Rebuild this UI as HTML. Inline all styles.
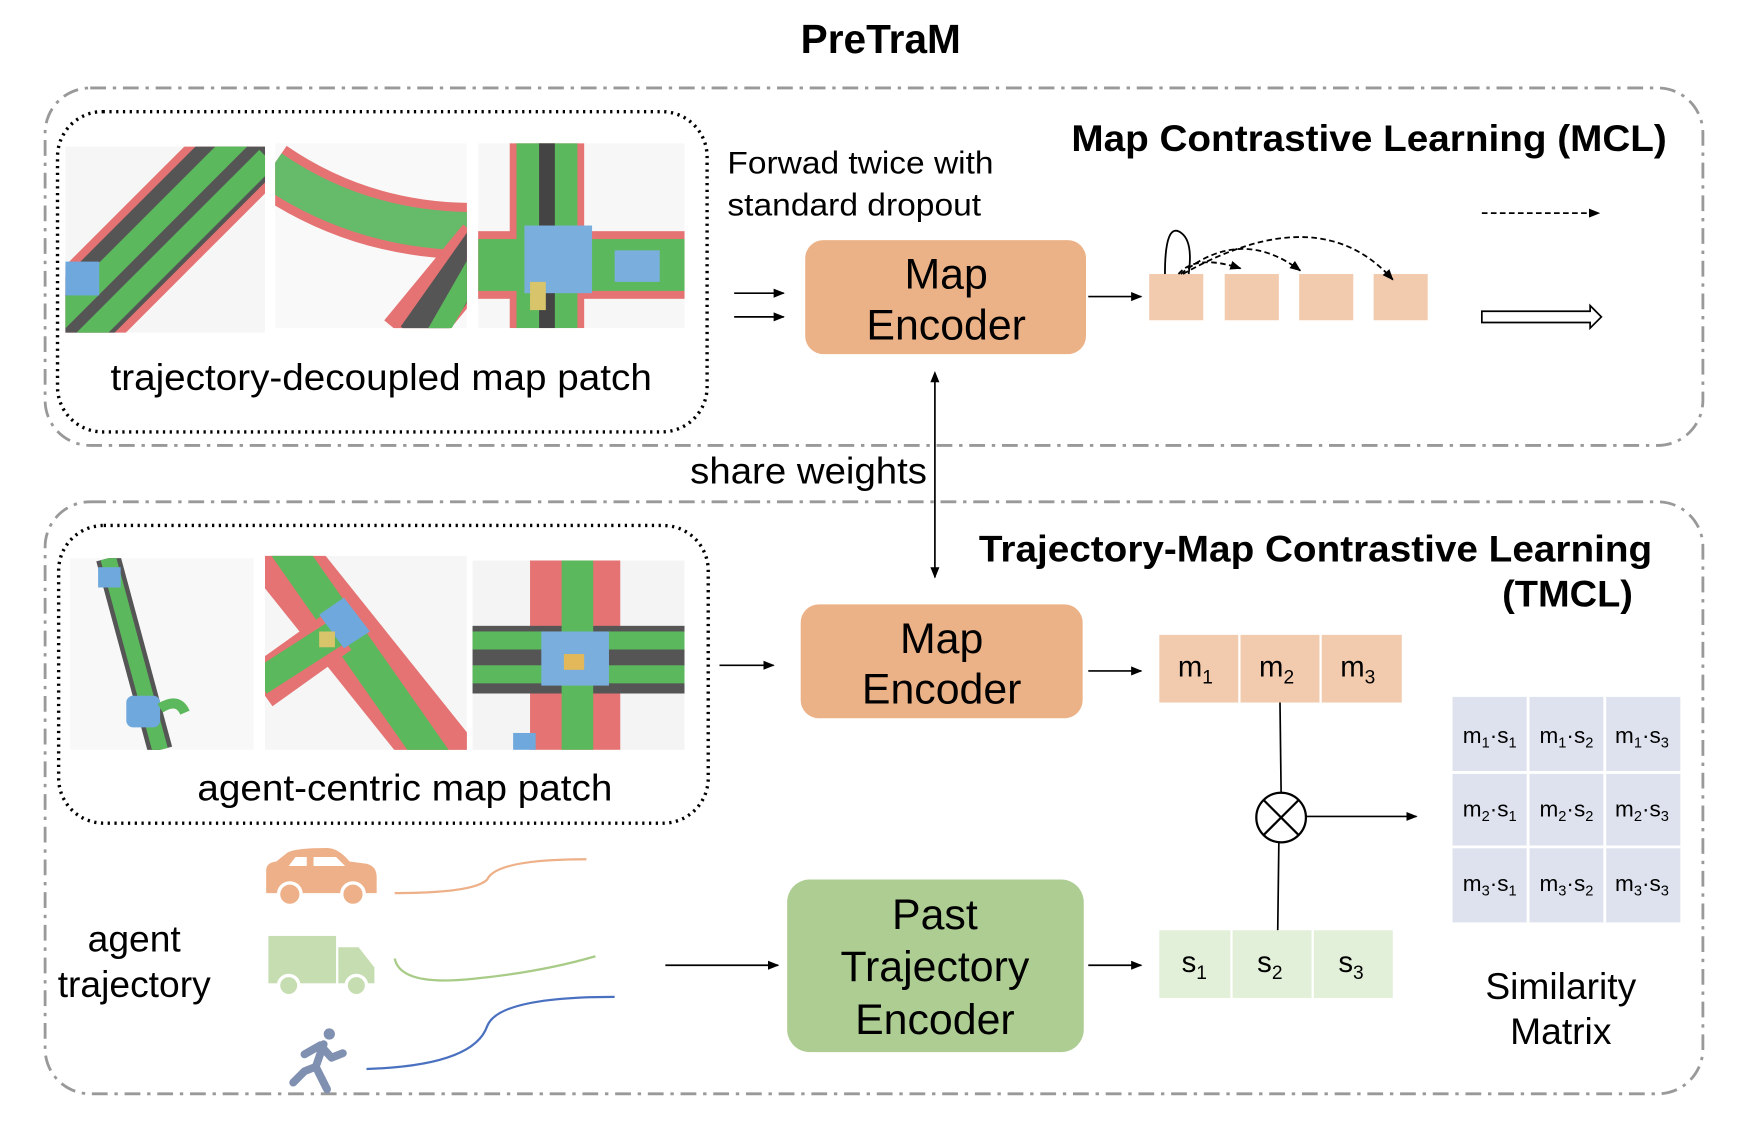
<!DOCTYPE html>
<html><head><meta charset="utf-8"><style>
html,body{margin:0;padding:0;background:#fff;}
svg{display:block;}
text{font-family:"Liberation Sans",sans-serif;}
</style></head><body>
<svg width="1748" height="1122" viewBox="0 0 1550 995" preserveAspectRatio="none" xmlns="http://www.w3.org/2000/svg">
<defs>
<marker id="ah" markerWidth="10" markerHeight="10" refX="9" refY="5" orient="auto" markerUnits="userSpaceOnUse"><path d="M0,1 L10,5 L0,9 Z" fill="#000"/></marker>
<marker id="ah2" markerWidth="10" markerHeight="10" refX="1" refY="5" orient="auto-start-reverse" markerUnits="userSpaceOnUse"><path d="M0,1 L10,5 L0,9 Z" fill="#000"/></marker>
<clipPath id="c1"><rect x="58" y="130" width="177" height="165"/></clipPath>
<clipPath id="c2"><rect x="244" y="127" width="170" height="164"/></clipPath>
<clipPath id="c3"><rect x="424" y="127" width="183" height="164"/></clipPath>
<clipPath id="c4"><rect x="62" y="495" width="163" height="170"/></clipPath>
<clipPath id="c5"><rect x="235" y="493" width="179" height="172"/></clipPath>
<clipPath id="c6"><rect x="419" y="497" width="188" height="168"/></clipPath>
</defs>
<rect width="1550" height="995" fill="#fff"/>
<text x="781" y="47" font-size="36" font-weight="bold" text-anchor="middle">PreTraM</text>

<rect x="40" y="78" width="1470" height="317" rx="40" fill="none" stroke="#999" stroke-width="2.5" stroke-dasharray="14,6,3,6"/>
<rect x="40" y="445" width="1470" height="525" rx="40" fill="none" stroke="#999" stroke-width="2.5" stroke-dasharray="14,6,3,6"/>
<rect x="51" y="99" width="576" height="284" rx="40" fill="none" stroke="#000" stroke-width="3" stroke-dasharray="2,4"/>
<rect x="52" y="466" width="576" height="264" rx="40" fill="none" stroke="#000" stroke-width="3" stroke-dasharray="2,4"/>

<g clip-path="url(#c1)">
<rect x="58" y="130" width="177" height="165" fill="#f6f6f6"/>
<line x1="30" y1="320" x2="230" y2="120" stroke="#e57373" stroke-width="80"/>
<line x1="30" y1="320" x2="230" y2="120" stroke="#555" stroke-width="66"/>
<line x1="40" y1="295" x2="215" y2="120" stroke="#5cb85c" stroke-width="20"/>
<line x1="62" y1="315" x2="237" y2="140" stroke="#5cb85c" stroke-width="20"/>
<rect x="58" y="232" width="30" height="30" fill="#6fa8dc"/>
</g>
<g clip-path="url(#c2)">
<rect x="244" y="127" width="170" height="164" fill="#f9f9f9"/>
<path d="M240,150 Q320,205 420,205" fill="none" stroke="#e57373" stroke-width="50"/>
<path d="M240,150 Q320,205 420,205" fill="none" stroke="#66bb6a" stroke-width="34"/>
<path d="M430,215 L360,300" fill="none" stroke="#e57373" stroke-width="50"/>
<path d="M430,215 L370,300" fill="none" stroke="#555" stroke-width="36"/>
<path d="M428,225 L385,300" fill="none" stroke="#5cb85c" stroke-width="18"/>
</g>
<g clip-path="url(#c3)">
<rect x="424" y="127" width="183" height="164" fill="#f7f7f7"/>
<rect x="452" y="127" width="66" height="164" fill="#e57373"/>
<rect x="420" y="205" width="190" height="60" fill="#e57373"/>
<rect x="458" y="127" width="54" height="164" fill="#5cb85c"/>
<rect x="478" y="127" width="14" height="164" fill="#444"/>
<rect x="424" y="212" width="183" height="46" fill="#5cb85c"/>
<rect x="465" y="200" width="60" height="60" fill="#7aaedc"/>
<rect x="545" y="222" width="40" height="28" fill="#7aaedc"/>
<rect x="470" y="250" width="14" height="25" fill="#d8c46a"/>
</g>
<g clip-path="url(#c4)">
<rect x="62" y="495" width="163" height="170" fill="#f8f8f8"/>
<line x1="96" y1="495" x2="142" y2="665" stroke="#555" stroke-width="22"/>
<line x1="96" y1="495" x2="142" y2="665" stroke="#5cb85c" stroke-width="14"/>
<rect x="87" y="503" width="20" height="18" fill="#6fa8dc"/>
<rect x="112" y="617" width="30" height="28" rx="6" fill="#6fa8dc"/>
<path d="M142,628 Q158,618 164,632" fill="none" stroke="#5cb85c" stroke-width="9"/>
</g>
<g clip-path="url(#c5)">
<rect x="235" y="493" width="179" height="172" fill="#f6f6f6"/>
<line x1="240" y1="480" x2="400" y2="680" stroke="#e57373" stroke-width="60"/>
<line x1="250" y1="480" x2="390" y2="680" stroke="#5cb85c" stroke-width="30"/>
<line x1="230" y1="610" x2="300" y2="560" stroke="#e57373" stroke-width="40"/>
<line x1="230" y1="605" x2="300" y2="560" stroke="#5cb85c" stroke-width="24"/>
<polygon points="283,545 305,530 328,560 305,575" fill="#6fa8dc"/>
<rect x="283" y="560" width="14" height="14" fill="#d8c46a"/>
</g>
<g clip-path="url(#c6)">
<rect x="419" y="497" width="188" height="168" fill="#f4f4f4"/>
<rect x="470" y="497" width="80" height="168" fill="#e57373"/>
<rect x="419" y="555" width="188" height="60" fill="#555"/>
<rect x="498" y="497" width="28" height="168" fill="#5cb85c"/>
<rect x="419" y="560" width="188" height="16" fill="#5cb85c"/>
<rect x="419" y="590" width="188" height="16" fill="#5cb85c"/>
<rect x="480" y="560" width="60" height="48" fill="#7aaedc"/>
<rect x="500" y="580" width="18" height="14" fill="#e2b85a"/>
<rect x="455" y="650" width="20" height="15" fill="#6fa8dc"/>
</g>

<text x="98" y="346" font-size="33" textLength="480" lengthAdjust="spacingAndGlyphs">trajectory-decoupled map patch</text>
<text x="175" y="710" font-size="33" textLength="368" lengthAdjust="spacingAndGlyphs">agent-centric map patch</text>
<text x="645" y="154" font-size="28" textLength="236" lengthAdjust="spacingAndGlyphs">Forwad twice with</text>
<text x="645" y="191" font-size="28" textLength="225" lengthAdjust="spacingAndGlyphs">standard dropout</text>
<text x="950" y="134" font-size="33" font-weight="bold" textLength="528" lengthAdjust="spacingAndGlyphs">Map Contrastive Learning (MCL)</text>
<text x="868" y="498" font-size="33" font-weight="bold" textLength="597" lengthAdjust="spacingAndGlyphs">Trajectory-Map Contrastive Learning</text>
<text x="1332" y="538" font-size="33" font-weight="bold" textLength="116" lengthAdjust="spacingAndGlyphs">(TMCL)</text>
<text x="612" y="429" font-size="33" textLength="210" lengthAdjust="spacingAndGlyphs">share weights</text>

<g stroke="#000" stroke-width="1.5" fill="none">
<line x1="651" y1="260" x2="695" y2="260" marker-end="url(#ah)"/>
<line x1="651" y1="281" x2="695" y2="281" marker-end="url(#ah)"/>
<line x1="965" y1="263" x2="1012" y2="263" marker-end="url(#ah)"/>
<line x1="829" y1="338" x2="829" y2="512" marker-start="url(#ah2)" marker-end="url(#ah)"/>
<line x1="638" y1="590" x2="686" y2="590" marker-end="url(#ah)"/>
<line x1="965" y1="595" x2="1012" y2="595" marker-end="url(#ah)"/>
<line x1="965" y1="856" x2="1012" y2="856" marker-end="url(#ah)"/>
<line x1="590" y1="856" x2="690" y2="856" marker-end="url(#ah)"/>
<line x1="1158" y1="724" x2="1256" y2="724" marker-end="url(#ah)"/>
<line x1="1135" y1="623" x2="1136" y2="703"/>
<line x1="1134" y1="747" x2="1133" y2="825"/>
<line x1="1314" y1="189" x2="1418" y2="189" stroke-dasharray="5,3" marker-end="url(#ah)"/>
</g>
<circle cx="1136" cy="725" r="22" fill="#fff" stroke="#000" stroke-width="2"/>
<line x1="1120" y1="709" x2="1152" y2="741" stroke="#000" stroke-width="2"/>
<line x1="1152" y1="709" x2="1120" y2="741" stroke="#000" stroke-width="2"/>
<path d="M1314,276 L1410,276 L1410,271 L1420,281 L1410,291 L1410,286 L1314,286 Z" fill="#fff" stroke="#000" stroke-width="1.5"/>

<rect x="714" y="213" width="249" height="101" rx="16" fill="#ECB287"/>
<text x="839" y="256" font-size="38" text-anchor="middle">Map</text>
<text x="839" y="301" font-size="38" text-anchor="middle">Encoder</text>
<rect x="710" y="536" width="250" height="101" rx="16" fill="#ECB287"/>
<text x="835" y="579" font-size="38" text-anchor="middle">Map</text>
<text x="835" y="624" font-size="38" text-anchor="middle">Encoder</text>
<rect x="698" y="780" width="263" height="153" rx="20" fill="#AECD93"/>
<text x="829" y="824" font-size="38" text-anchor="middle">Past</text>
<text x="829" y="870" font-size="38" text-anchor="middle">Trajectory</text>
<text x="829" y="917" font-size="38" text-anchor="middle">Encoder</text>

<g fill="#F2CBAE">
<rect x="1019" y="243" width="48" height="41"/><rect x="1086" y="243" width="48" height="41"/>
<rect x="1152" y="243" width="48" height="41"/><rect x="1218" y="243" width="48" height="41"/>
</g>
<g fill="none" stroke="#000" stroke-width="1.6">
<path d="M1033,243 Q1033,195 1048,207 Q1058,215 1054,243"/>
<path d="M1045,243 Q1060,225 1100,238" stroke-dasharray="5,3" marker-end="url(#ah)"/>
<path d="M1047,243 Q1100,200 1153,240" stroke-dasharray="5,3" marker-end="url(#ah)"/>
<path d="M1049,243 Q1170,175 1235,248" stroke-dasharray="5,3" marker-end="url(#ah)"/>
</g>

<g fill="#F2CBAE"><rect x="1028" y="563" width="70" height="60"/><rect x="1100" y="563" width="70" height="60"/><rect x="1172" y="563" width="71" height="60"/></g>
<g font-size="26" text-anchor="middle">
<text x="1060" y="600">m<tspan font-size="17" dy="6">1</tspan></text>
<text x="1132" y="600">m<tspan font-size="17" dy="6">2</tspan></text>
<text x="1204" y="600">m<tspan font-size="17" dy="6">3</tspan></text>
</g>
<g fill="#E2EFD9"><rect x="1028" y="825" width="63" height="60"/><rect x="1093" y="825" width="70" height="60"/><rect x="1165" y="825" width="70" height="60"/></g>
<g font-size="26" text-anchor="middle">
<text x="1059" y="862">s<tspan font-size="17" dy="6">1</tspan></text>
<text x="1126" y="862">s<tspan font-size="17" dy="6">2</tspan></text>
<text x="1198" y="862">s<tspan font-size="17" dy="6">3</tspan></text>
</g>

<rect x="1288" y="618" width="202" height="200" fill="#DEE2EE"/>
<g stroke="#fff" stroke-width="2.5"><line x1="1355" y1="618" x2="1355" y2="818"/><line x1="1423" y1="618" x2="1423" y2="818"/><line x1="1288" y1="685" x2="1490" y2="685"/><line x1="1288" y1="751" x2="1490" y2="751"/></g>
<g font-size="20" text-anchor="middle">
<text x="1321" y="659">m<tspan font-size="13" dy="4">1</tspan><tspan dy="-4">·s</tspan><tspan font-size="13" dy="4">1</tspan></text>
<text x="1389" y="659">m<tspan font-size="13" dy="4">1</tspan><tspan dy="-4">·s</tspan><tspan font-size="13" dy="4">2</tspan></text>
<text x="1456" y="659">m<tspan font-size="13" dy="4">1</tspan><tspan dy="-4">·s</tspan><tspan font-size="13" dy="4">3</tspan></text>
<text x="1321" y="724">m<tspan font-size="13" dy="4">2</tspan><tspan dy="-4">·s</tspan><tspan font-size="13" dy="4">1</tspan></text>
<text x="1389" y="724">m<tspan font-size="13" dy="4">2</tspan><tspan dy="-4">·s</tspan><tspan font-size="13" dy="4">2</tspan></text>
<text x="1456" y="724">m<tspan font-size="13" dy="4">2</tspan><tspan dy="-4">·s</tspan><tspan font-size="13" dy="4">3</tspan></text>
<text x="1321" y="790">m<tspan font-size="13" dy="4">3</tspan><tspan dy="-4">·s</tspan><tspan font-size="13" dy="4">1</tspan></text>
<text x="1389" y="790">m<tspan font-size="13" dy="4">3</tspan><tspan dy="-4">·s</tspan><tspan font-size="13" dy="4">2</tspan></text>
<text x="1456" y="790">m<tspan font-size="13" dy="4">3</tspan><tspan dy="-4">·s</tspan><tspan font-size="13" dy="4">3</tspan></text>
</g>
<text x="1384" y="886" font-size="33" text-anchor="middle">Similarity</text>
<text x="1384" y="926" font-size="33" text-anchor="middle">Matrix</text>

<text x="119" y="844" font-size="33" text-anchor="middle">agent</text>
<text x="119" y="884" font-size="33" text-anchor="middle">trajectory</text>

<g fill="#EDB088">
<path d="M236,772 Q236,765 245,764 L255,756 Q262,752 290,752 Q300,752 310,764 L325,766 Q334,768 334,778 L334,792 L236,792 Z"/>
<circle cx="257" cy="793" r="10" stroke="#fff" stroke-width="3"/><circle cx="313" cy="793" r="10" stroke="#fff" stroke-width="3"/>
</g>
<path d="M262,760 L272,760 L272,768 L256,768 Z M278,760 L298,760 L306,768 L278,768 Z" fill="#fff"/>
<g fill="#C5DDB0">
<rect x="238" y="830" width="60" height="42"/>
<path d="M300,840 L318,840 L332,858 L332,872 L300,872 Z"/>
<circle cx="256" cy="874" r="9" stroke="#fff" stroke-width="3"/><circle cx="316" cy="874" r="9" stroke="#fff" stroke-width="3"/>
</g>
<g fill="none" stroke="#8090B0" stroke-width="7" stroke-linecap="round" stroke-linejoin="round">
<circle cx="292" cy="917" r="5" fill="#8090B0" stroke="none"/>
<path d="M287,926 L280,946 L290,966"/>
<path d="M280,946 L270,950 L260,960"/>
<path d="M270,935 L284,927 L294,938 L304,934"/>
</g>
<path d="M350,792 Q420,792 432,780 Q440,762 520,762" fill="none" stroke="#EDB088" stroke-width="2"/>
<path d="M350,850 Q355,875 420,868 Q480,862 528,848" fill="none" stroke="#A8CC88" stroke-width="2"/>
<path d="M325,948 Q420,945 432,910 Q442,884 545,884" fill="none" stroke="#4A70C0" stroke-width="2"/>
</svg>
</body></html>
